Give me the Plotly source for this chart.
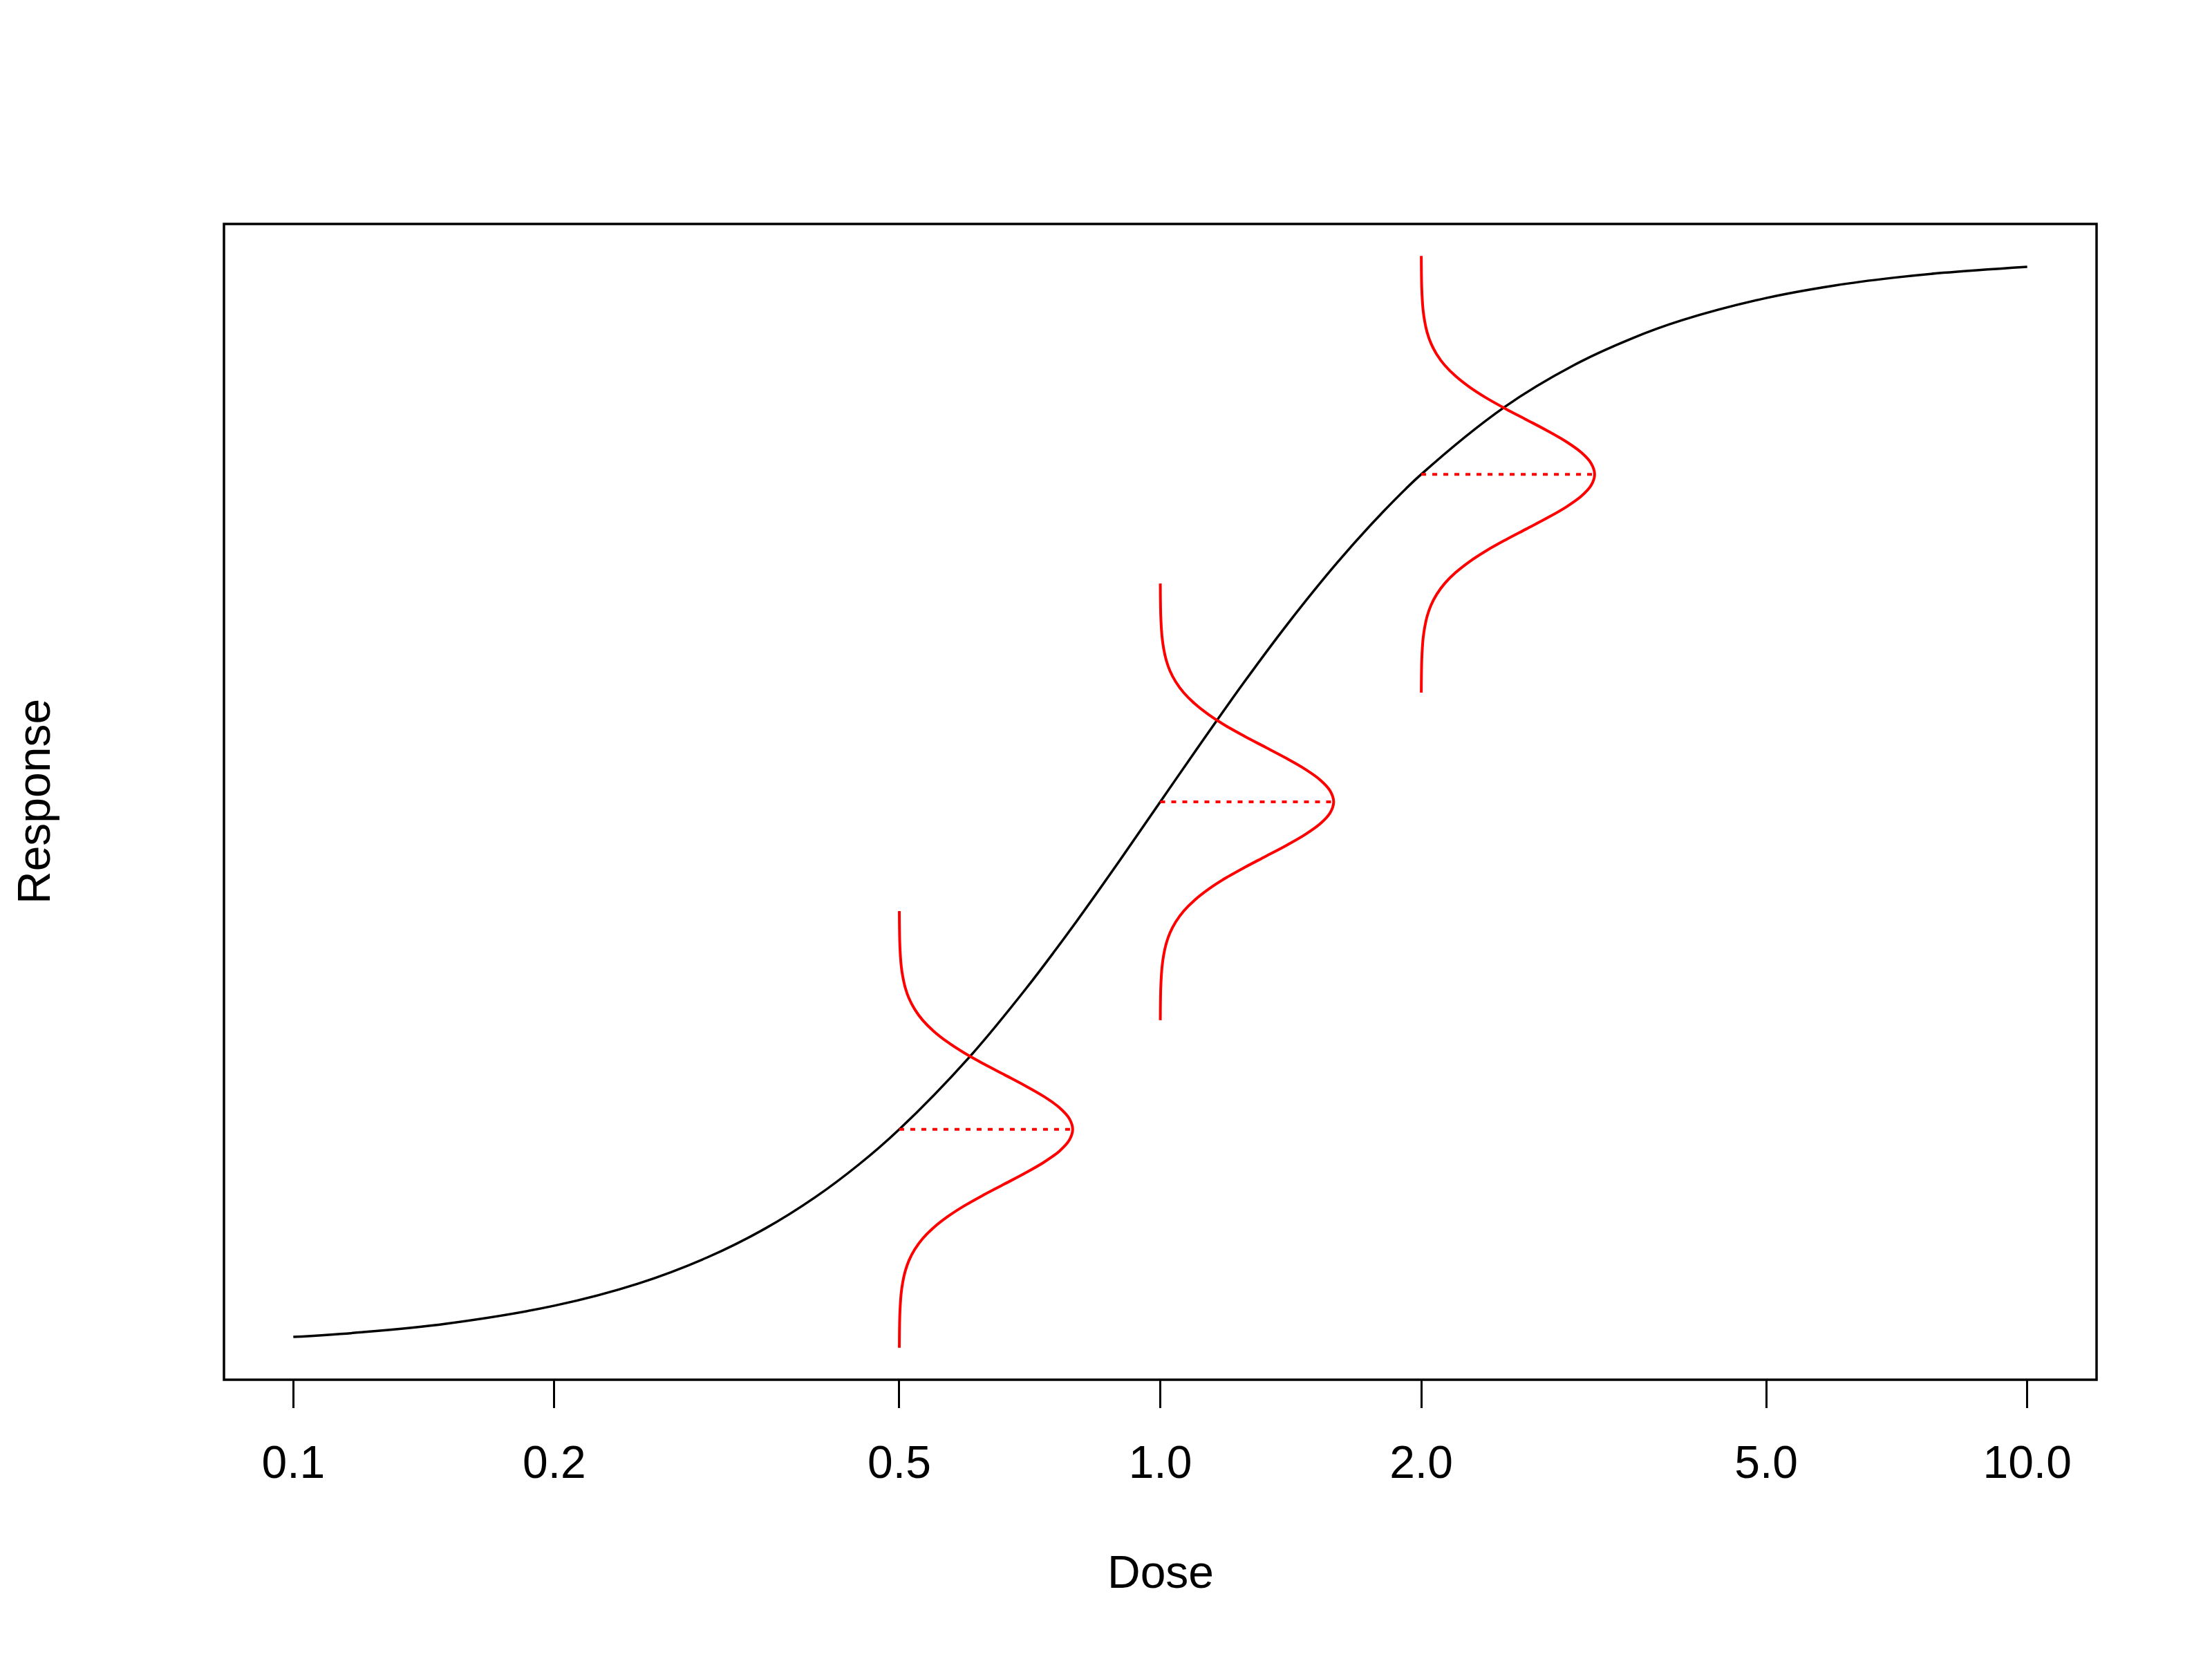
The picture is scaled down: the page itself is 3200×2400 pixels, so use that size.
import plotly.graph_objects as go

# Dose-response curve
curve_dose = [0.1, 0.12, 0.15, 0.2, 0.25, 0.3, 0.35, 0.4, 0.45, 0.5, 0.6, 0.7, 0.8, 0.9,
              1.0, 1.1, 1.25, 1.4, 1.6, 1.8, 2.0, 2.5, 3.0, 3.5, 4.0, 5.0, 6.0, 7.0, 8.0, 10.0]
curve_resp = [0.0099, 0.0142, 0.0220, 0.0385, 0.0588, 0.0826, 0.1091, 0.1379, 0.1684, 0.2000,
              0.2647, 0.3289, 0.3902, 0.4475, 0.5000, 0.5475, 0.6098, 0.6622, 0.7191, 0.7642,
              0.8000, 0.8621, 0.9000, 0.9245, 0.9412, 0.9615, 0.9730, 0.9800, 0.9846, 0.9901]

# Red distribution marks
mark_dose = [0.5, 1.0, 2.0]
mark_resp = [0.2, 0.5, 0.8]
# bell shape: vertical offset from centre (response units) and relative width
bell_dy = [0.00, 0.01, 0.02, 0.03, 0.04, 0.05, 0.06, 0.07, 0.08, 0.09, 0.10,
           0.11, 0.12, 0.13, 0.14, 0.15, 0.16, 0.17, 0.18, 0.19, 0.20]
bell_w = [1.000, 0.980, 0.923, 0.835, 0.726, 0.607, 0.487, 0.375, 0.278, 0.198, 0.135,
          0.089, 0.056, 0.034, 0.020, 0.011, 0.006, 0.003, 0.0015, 0.0007, 0.0003]
bell_peak_decades = 0.2

tick_vals = [0.1, 0.2, 0.5, 1.0, 2.0, 5.0, 10.0]
tick_text = ["0.1", "0.2", "0.5", "1.0", "2.0", "5.0", "10.0"]

FONT = "Liberation Sans, Arial, sans-serif"
FS = 66

fig = go.Figure()
fig.add_trace(go.Scatter(x=curve_dose, y=curve_resp, mode="lines",
                         line=dict(color="black", width=3.5, shape="spline"),
                         showlegend=False, hoverinfo="skip"))

# full bell: from bottom (-0.2) to top (+0.2)
dys = [-d for d in reversed(bell_dy)] + bell_dy[1:]
ws = list(reversed(bell_w)) + bell_w[1:]
for d, r in zip(mark_dose, mark_resp):
    xs = [d * 10 ** (bell_peak_decades * w) for w in ws]
    ys = [r + dy for dy in dys]
    fig.add_trace(go.Scatter(x=xs, y=ys, mode="lines",
                             line=dict(color="red", width=4, shape="spline"),
                             showlegend=False, hoverinfo="skip"))
    fig.add_trace(go.Scatter(x=[d, d * 10 ** bell_peak_decades], y=[r, r], mode="lines",
                             line=dict(color="red", width=4, dash="7px,9px"),
                             showlegend=False, hoverinfo="skip"))

ylo, yhi = curve_resp[0], curve_resp[-1]
pad = 0.04 * (yhi - ylo)

# page body has an 8px margin, compensate so the plot frame lands at 324..3033 / 324..1996
fig.update_layout(
    width=3200, height=2400,
    margin=dict(l=316, r=175, t=316, b=412),
    paper_bgcolor="white", plot_bgcolor="white",
    font=dict(family=FONT, size=FS, color="black"),
    xaxis=dict(type="log", range=[-1.08, 1.08], tickvals=tick_vals, ticktext=tick_text,
               ticks="outside", ticklen=40, tickwidth=3, tickcolor="black",
               ticklabelstandoff=22,
               showgrid=False, zeroline=False, showline=False,
               tickfont=dict(family=FONT, size=FS, color="black")),
    yaxis=dict(range=[ylo - pad, yhi + pad], showticklabels=False, ticks="",
               showgrid=False, zeroline=False, showline=False),
    shapes=[dict(type="rect", xref="paper", yref="paper", x0=0, x1=1, y0=0, y1=1,
                 line=dict(color="black", width=3.5))],
    annotations=[
        dict(text="Dose", xref="paper", yref="paper", x=0.5, y=(1996 - 2274) / 1672,
             xanchor="center", yanchor="middle", showarrow=False,
             font=dict(family=FONT, size=FS, color="black")),
        dict(text="Response", xref="paper", yref="paper", x=(49 - 324) / 2709, y=0.5,
             xanchor="center", yanchor="middle", textangle=-90, showarrow=False,
             font=dict(family=FONT, size=FS, color="black")),
    ],
)

fig.write_html("out.html")
